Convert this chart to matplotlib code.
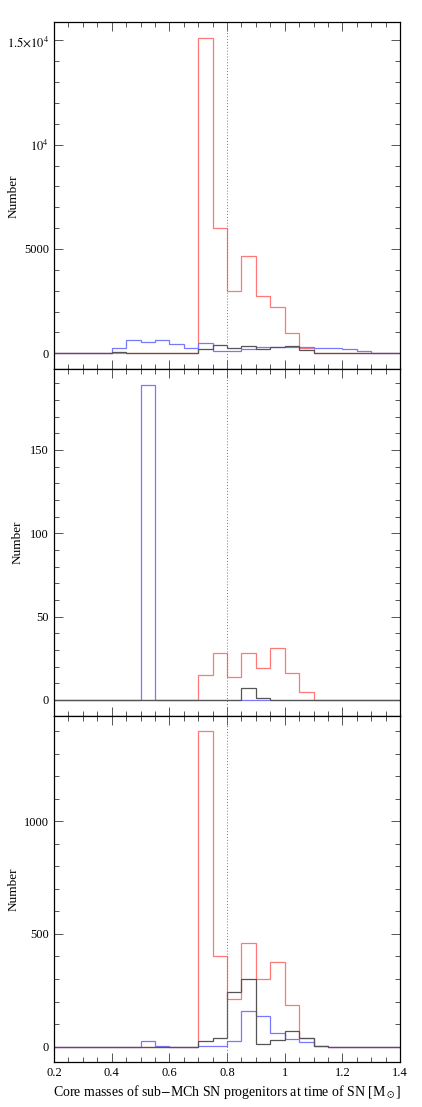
import numpy as np
import matplotlib
matplotlib.use('Agg')
import matplotlib.pyplot as plt
from matplotlib.ticker import MultipleLocator, FixedLocator

plt.rcParams['font.family'] = ['Liberation Serif', 'DejaVu Serif']
plt.rcParams['mathtext.fontset'] = 'stix'

# bin edges of the core-mass histograms (Msun)
edges = np.round(np.arange(0.2, 1.4001, 0.05), 2)
xticks = [0.2, 0.4, 0.6, 0.8, 1.0, 1.2, 1.4]
xticklabels = ['0.2', '0.4', '0.6', '0.8', '1', '1.2', '1.4']

# counts per bin, starting at 0.2 -- 24 bins each
#                0.2 .25  .3 .35  .4  .45  .5  .55  .6  .65   .7    .75   .8   .85   .9   .95   1.0  1.05 1.1 1.15 1.2 1.25 1.3 1.35
top_red   = [0, 0, 0, 0, 0,   0,   0,   0,   0,   0,   15100, 6000, 3000, 4640, 2750, 2200, 990, 270, 0, 0, 0, 0, 0, 0]
top_blue  = [0, 0, 0, 0, 240, 620, 530, 620, 450, 255, 480,   95,   95,   190,  290,  320,  320, 290, 240, 240, 205, 110, 0, 0]
top_black = [0, 0, 0, 0, 50,  0,   0,   0,   0,   0,   190,   400,  270,  365,  205,  320,  335, 160, 0, 0, 0, 0, 0, 0]

mid_red   = [0, 0, 0, 0, 0, 0, 0,   0, 0, 0, 15, 28, 14, 28, 19, 31, 16, 5, 0, 0, 0, 0, 0, 0]
mid_blue  = [0, 0, 0, 0, 0, 0, 189, 0, 0, 0, 0,  0,  0,  0,  0,  0,  0,  0, 0, 0, 0, 0, 0, 0]
mid_black = [0, 0, 0, 0, 0, 0, 0,   0, 0, 0, 0,  0,  0,  7,  1,  0,  0,  0, 0, 0, 0, 0, 0, 0]

bot_red   = [0, 0, 0, 0, 0, 0, 0,  0, 0, 0, 1400, 402, 213, 461, 302, 377, 183, 40, 3, 0, 0, 0, 0, 0]
bot_blue  = [0, 0, 0, 0, 0, 0, 25, 4, 0, 0, 3,    4,   24,  160, 135, 58,  33,  18, 3, 0, 0, 0, 0, 0]
bot_black = [0, 0, 0, 0, 0, 0, 0,  0, 0, 0, 25,   37,  244, 302, 13,  31,  71,  40, 4, 0, 0, 0, 0, 0]

panels = [
    (top_blue, top_black, top_red, 1000,
     [0, 5000, 10000, 15000], ['0', '5000', r'$10^4$', r'$1.5{\times}10^4$'], -0.098),
    (mid_blue, mid_black, mid_red, 10,
     [0, 50, 100, 150], ['0', '50', '100', '150'], -0.088),
    (bot_blue, bot_black, bot_red, 100,
     [0, 500, 1000], ['0', '500', '1000'], -0.098),
]

fig = plt.figure(figsize=(4.22, 11.07), dpi=100)
left, width = 0.128, 0.82
bottom0, h = 0.0404, 0.3131

axes = []
for i, (blue, black, red, minor, yt, ytl, labx) in enumerate(panels):
    ax = fig.add_axes([left, bottom0 + (2 - i) * h, width, h])
    axes.append(ax)
    # red underneath, black on top (zero line shows dark)
    ax.stairs(red, edges, color='#ff7878', lw=0.9, baseline=None)
    ax.stairs(blue, edges, color='#7878ff', lw=0.9, baseline=None)
    ax.stairs(black, edges, color='#555555', lw=0.9, baseline=None)
    ax.axvline(0.8, color='#777777', ls=(0, (1, 2)), lw=0.7)

    ymax = max(max(blue), max(black), max(red))
    ax.set_ylim(-0.05 * ymax, 1.05 * ymax)
    ax.set_xlim(0.2, 1.4)

    ax.yaxis.set_major_locator(FixedLocator(yt))
    ax.set_yticklabels(ytl)
    ax.yaxis.set_minor_locator(MultipleLocator(minor))
    ax.xaxis.set_major_locator(FixedLocator(xticks))
    ax.xaxis.set_minor_locator(MultipleLocator(0.05))
    ax.tick_params(which='both', direction='in', top=True, right=True,
                   color='#555555', width=0.7, labelsize=9)
    ax.tick_params(which='major', length=6.5)
    ax.tick_params(which='minor', length=3.5)
    ax.set_ylabel('Number', fontsize=9.5)
    ax.yaxis.set_label_coords(labx, 0.5)
    for s in ax.spines.values():
        s.set_linewidth(0.9)
    if i < 2:
        ax.tick_params(labelbottom=False)

axes[2].set_xticklabels(xticklabels)
axes[2].set_xlabel(r'Core masses of sub$-$MCh SN progenitors at time of SN [M$_\odot$]',
                   fontsize=10, labelpad=3)

fig.savefig('out.png', dpi=100)
